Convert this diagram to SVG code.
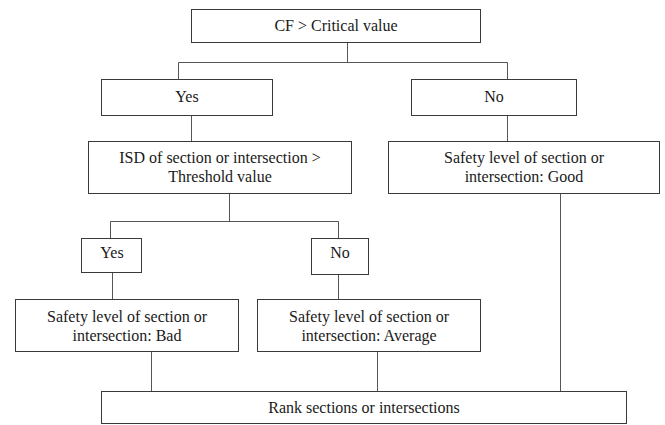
<svg xmlns="http://www.w3.org/2000/svg" width="665" height="425" viewBox="0 0 665 425">
<style>
.box{fill:#fff;stroke:#3a3a3a;stroke-width:1}
.t{font-family:'Liberation Serif','Times New Roman',serif;font-size:16px;fill:#1a1a1a;text-anchor:middle}
.c{fill:none;stroke:#555;stroke-width:1}
</style>
<rect width="665" height="425" fill="#fff"/>
<g id="connectors">
<path class="c" d="M347.5,42V62.5M178.5,79V62.5H507.5V79"/>
<path class="c" d="M191.5,115V141"/>
<path class="c" d="M507.5,115V141"/>
<path class="c" d="M229.5,193V221.5M110.5,238V221.5H338.5V238"/>
<path class="c" d="M112.5,272V299"/>
<path class="c" d="M338.5,274V299"/>
<path class="c" d="M151.5,351V391"/>
<path class="c" d="M377.5,351V391"/>
<path class="c" d="M560.5,193V391"/>
</g>
<g id="n1"><rect class="box" x="191.5" y="9.5" width="289" height="33"/><text class="t" x="336" y="31">CF &gt; Critical value</text></g>
<g id="n2"><rect class="box" x="101.5" y="79.5" width="171" height="36"/><text class="t" x="187" y="102">Yes</text></g>
<g id="n3"><rect class="box" x="411.5" y="79.5" width="165" height="36"/><text class="t" x="494" y="102">No</text></g>
<g id="n4"><rect class="box" x="88.5" y="141.5" width="263" height="52"/><text class="t" x="220" y="163">ISD of section or intersection &gt;</text><text class="t" x="220" y="182">Threshold value</text></g>
<g id="n5"><rect class="box" x="388.5" y="141.5" width="271" height="52"/><text class="t" x="524" y="163">Safety level of section or</text><text class="t" x="524" y="182">intersection: Good</text></g>
<g id="n6"><rect class="box" x="81.5" y="238.5" width="60" height="34"/><text class="t" x="112" y="258">Yes</text></g>
<g id="n7"><rect class="box" x="311.5" y="238.5" width="57" height="36"/><text class="t" x="340" y="258">No</text></g>
<g id="n8"><rect class="box" x="15.5" y="299.5" width="223" height="52"/><text class="t" x="127" y="322">Safety level of section or</text><text class="t" x="127" y="341">intersection: Bad</text></g>
<g id="n9"><rect class="box" x="257.5" y="299.5" width="223" height="52"/><text class="t" x="369" y="322">Safety level of section or</text><text class="t" x="369" y="341">intersection: Average</text></g>
<g id="n10"><rect class="box" x="101.5" y="391.5" width="525" height="32"/><text class="t" x="364" y="413">Rank sections or intersections</text></g>
</svg>
